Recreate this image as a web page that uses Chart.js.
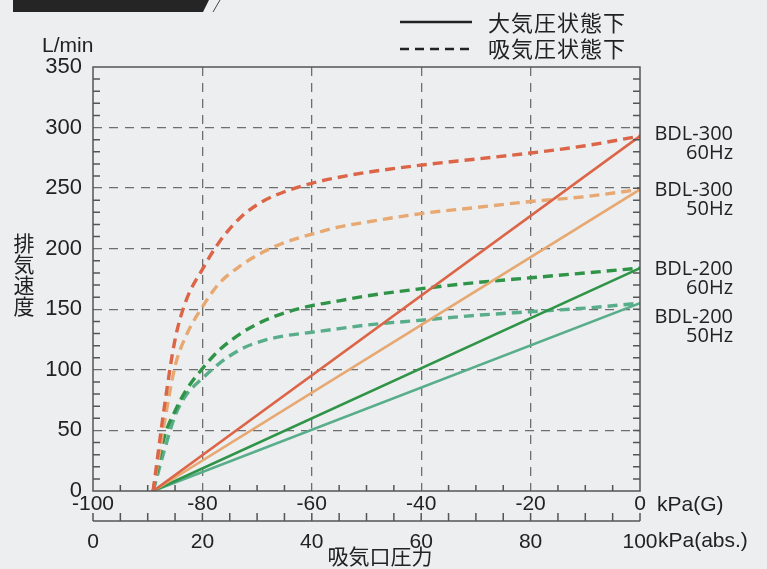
<!DOCTYPE html>
<html lang="ja">
<head>
<meta charset="UTF-8">
<title>排気速度</title>
<script src="https://cdn.jsdelivr.net/npm/chart.js"></script>
<style>
  body { margin: 0; background: #eceeef; }
  #wrap { width: 767px; height: 569px; position: relative; }
</style>
</head>
<body>
<div id="wrap"><canvas id="speedChart"></canvas></div>
<script>
// 吸気口圧力 kPa(G)
const pressG = [-89, -87, -85, -83, -80, -77, -73, -69, -65, -60, -55, -50, -40, -30, -20, -10, 0];
// 吸気圧状態下 (dashed)
const bdl300_60_suction = [0, 68, 125, 157, 183, 205, 226, 239, 247, 254, 259, 263, 269, 274, 279, 285, 293];
const bdl300_50_suction = [0, 55, 103, 128, 152, 171, 186, 197, 205, 212, 218, 222, 229, 234, 239, 243, 249];
const bdl200_60_suction = [0, 44, 66, 83, 101, 116, 130, 140, 147, 153, 157, 161, 167, 172, 176, 180, 184];
const bdl200_50_suction = [0, 33, 62, 79, 93, 105, 117, 124, 128, 131, 134, 137, 141, 145, 148, 151, 155];
// 大気圧状態下 (solid)
const atmPressG = [-89, 0];
const bdl300_60_atm = [0, 293];
const bdl300_50_atm = [0, 249];
const bdl200_60_atm = [0, 184];
const bdl200_50_atm = [0, 155];

const modelLabels = [['BDL-300', '60Hz'], ['BDL-300', '50Hz'], ['BDL-200', '60Hz'], ['BDL-200', '50Hz']];
const colors = ['#dc6548', '#e7a872', '#2f9447', '#58ad8a'];

const toXY = (xs, ys) => xs.map((x, i) => ({ x: x, y: ys[i] }));

const solidSet = (ys, c) => ({ data: toXY(atmPressG, ys), borderColor: c, borderWidth: 2.6, pointRadius: 0, fill: false });
const dashSet = (ys, c) => ({ data: toXY(pressG, ys), borderColor: c, borderWidth: 3.4, borderDash: [10, 6], pointRadius: 0, fill: false, cubicInterpolationMode: 'monotone' });

const numFont = { family: '"Liberation Sans", Arial, sans-serif', size: 21 };
const jpFont = '"Noto Sans CJK JP", sans-serif';

const decor = {
    id: 'decor',
    beforeDraw(chart) {
        const c = chart.ctx;
        c.save();
        c.fillStyle = '#eceeef';
        c.fillRect(0, 0, chart.width, chart.height);
        // top-left bar
        c.fillStyle = '#252525';
        c.beginPath();
        c.moveTo(13, 0); c.lineTo(209, 0); c.lineTo(203, 12); c.lineTo(13, 12);
        c.closePath(); c.fill();
        c.strokeStyle = '#444'; c.lineWidth = 1;
        c.beginPath(); c.moveTo(220, 0); c.lineTo(213, 12); c.stroke();
        c.restore();
    },
    afterDatasetsDraw(chart) {
        const c = chart.ctx;
        const a = chart.chartArea;
        const xs = chart.scales.x, ys = chart.scales.y, x2 = chart.scales.x2;
        c.save();
        c.strokeStyle = '#555';
        c.lineWidth = 1.5;
        c.strokeRect(a.left, a.top, a.right - a.left, a.bottom - a.top);
        c.beginPath();
        for (let v = -95; v < 0; v += 5) {
            if (v % 20 === 0) continue;
            const px = xs.getPixelForValue(v);
            c.moveTo(px, a.bottom); c.lineTo(px, a.bottom - 6);
        }
        for (let v = 10; v < 350; v += 10) {
            const py = ys.getPixelForValue(v);
            if (v % 50 !== 0) { c.moveTo(a.left, py); c.lineTo(a.left + 7, py); }
            c.moveTo(a.right, py); c.lineTo(a.right - 7, py);
        }
        // second axis line + ticks
        const ly = x2.top + 8;
        c.moveTo(x2.getPixelForValue(0), ly); c.lineTo(x2.getPixelForValue(100), ly);
        for (let v = 0; v <= 100; v += 5) {
            const px = x2.getPixelForValue(v);
            c.moveTo(px, ly); c.lineTo(px, ly - 8);
        }
        c.stroke();
        c.restore();
    },
    afterDraw(chart) {
        const c = chart.ctx;
        const ys = chart.scales.y;
        c.save();
        c.fillStyle = '#222';
        c.textBaseline = 'middle';
        // units
        c.font = '21px "Liberation Sans", Arial, sans-serif';
        c.textAlign = 'left';
        c.fillText('L/min', 42, 46);
        c.fillText('kPa(G)', 657, 505);
        c.fillText('kPa(abs.)', 658, 541);
        // vertical axis title
        c.font = '21px ' + jpFont;
        c.textAlign = 'center';
        ['排', '気', '速', '度'].forEach((ch, i) => c.fillText(ch, 24, 243 + i * 21));
        c.fillText('吸気口圧力', 380, 556);
        // legend
        c.strokeStyle = '#222';
        c.lineWidth = 2.6;
        c.beginPath(); c.moveTo(400, 22); c.lineTo(472, 22); c.stroke();
        c.setLineDash([9, 6]);
        c.beginPath(); c.moveTo(400, 49); c.lineTo(472, 49); c.stroke();
        c.setLineDash([]);
        c.font = '22px ' + jpFont;
        c.letterSpacing = '1px';
        c.textAlign = 'left';
        c.fillText('大気圧状態下', 488, 23);
        c.fillText('吸気圧状態下', 488, 49);
        c.letterSpacing = '0px';
        // model labels
        const anchor = [295.5, 249, 184, 144.5];
        c.font = '20px "Open Sans", sans-serif';
        c.textAlign = 'right';
        modelLabels.forEach((lab, i) => {
            const py = ys.getPixelForValue(anchor[i]);
            c.fillText(lab[0], 733, py + 1);
            c.fillText(lab[1], 733, py + 20);
        });
        c.restore();
    }
};

const gridColor = (edgeVals) => (ctx) => edgeVals.includes(ctx.tick.value) ? 'rgba(0,0,0,0)' : '#6e6e6e';

new Chart(document.getElementById('speedChart'), {
    type: 'line',
    data: {
        datasets: [
            solidSet(bdl300_60_atm, colors[0]),
            solidSet(bdl300_50_atm, colors[1]),
            solidSet(bdl200_60_atm, colors[2]),
            solidSet(bdl200_50_atm, colors[3]),
            dashSet(bdl300_60_suction, colors[0]),
            dashSet(bdl300_50_suction, colors[1]),
            dashSet(bdl200_60_suction, colors[2]),
            dashSet(bdl200_50_suction, colors[3])
        ]
    },
    options: {
        responsive: true,
        maintainAspectRatio: false,
        animation: false,
        layout: { padding: { top: 67, right: 127, bottom: 0, left: 0 } },
        plugins: { legend: { display: false }, tooltip: { enabled: false } },
        scales: {
            x: {
                type: 'linear', position: 'bottom', min: -100, max: 0,
                afterFit: (s) => { s.height = 22; },
                ticks: { stepSize: 20, font: numFont, color: '#222', padding: 1, maxRotation: 0 },
                grid: { color: gridColor([-100, 0]), lineWidth: 1.3, drawTicks: false },
                border: { display: false, dash: [9, 7] }
            },
            x2: {
                type: 'linear', position: 'bottom', min: 0, max: 100,
                afterFit: (s) => { s.height = 56; },
                ticks: { stepSize: 20, font: numFont, color: '#222', padding: 17, maxRotation: 0 },
                grid: { drawOnChartArea: false, drawTicks: false },
                border: { display: false }
            },
            y: {
                type: 'linear', min: 0, max: 350,
                afterFit: (s) => { s.width = 93; },
                ticks: { stepSize: 50, font: { family: numFont.family, size: 22 }, color: '#222', padding: 11 },
                grid: { color: gridColor([0, 350]), lineWidth: 1.3, drawTicks: false },
                border: { display: false, dash: [9, 7] }
            }
        }
    },
    plugins: [decor]
});
</script>
</body>
</html>
